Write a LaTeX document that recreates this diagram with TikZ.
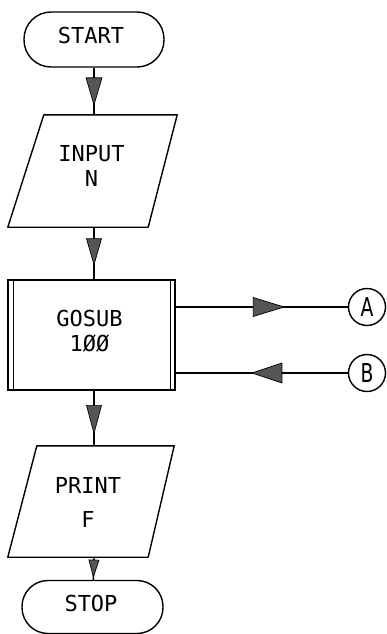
\documentclass[tikz,border=0pt]{standalone}
\usepackage{fontspec}
\usepackage{graphicx}
\usetikzlibrary{decorations.markings}
\newfontfamily\flowfont{DejaVu Sans Mono}
\newfontfamily\circfont{DejaVu Sans}
\definecolor{headfill}{HTML}{555555}
\tikzset{
  conn/.style={draw=black, line width=1.4pt},
  shapebox/.style={draw=black, line width=1.4pt, inner sep=0pt},
  lbl/.style={font=\flowfont\fontsize{22}{25}\selectfont, align=center, inner sep=0pt},
  ghost/.style={draw=none, inner sep=0pt},
  connector/.style={circle, draw=black, line width=1.4pt, minimum size=37pt, inner sep=0pt,
    font=\circfont\fontsize{26}{28}\selectfont},
  midhead/.style n args={3}{postaction={decorate}, decoration={markings,
    mark=at position #1 with {\filldraw[fill=headfill, draw=black, line width=0.7pt]
      (#2/2,0) -- (-#2/2,#3/2) -- (-#2/2,-#3/2) -- cycle;}}}
}
\begin{document}
\begin{tikzpicture}[x=1pt, y=-1pt]
\useasboundingbox (0,0) rectangle (387,634);
% terminals
\node[shapebox, rounded corners=27pt, minimum width=140pt, minimum height=55pt] (start) at (94,39.5) {};
\node[lbl] (starttxt) at (91,35) {START};
\node[shapebox, rounded corners=26pt, minimum width=141pt, minimum height=53pt] (stop) at (92.5,607) {};
\node[lbl] (stoptxt) at (91,603.5) {STOP};
% input parallelogram
\node[ghost, minimum width=169pt, minimum height=112pt] (input) at (92.5,171) {};
\draw[conn, line join=round] ([xshift=36pt]input.north west) -- (input.north east)
  -- ([xshift=-29pt]input.south east) -- (input.south west) -- cycle;
\node[lbl] (inputtxt) at (91.5,166) {INPUT\\N};
% gosub
\node[shapebox, minimum width=167pt, minimum height=110pt] (gosub) at (91.5,335) {};
\draw[conn] ([xshift=6pt]gosub.north west) -- ([xshift=6pt]gosub.south west);
\draw[conn] ([xshift=-5pt]gosub.north east) -- ([xshift=-5pt]gosub.south east);
\node[lbl] (gosubtxt) at (89.5,331.5) {GOSUB\\1ØØ};
% print parallelogram
\node[ghost, minimum width=166pt, minimum height=111pt] (print) at (91,501.5) {};
\draw[conn, line join=round] ([xshift=29pt]print.north west) -- (print.north east)
  -- ([xshift=-26pt]print.south east) -- (print.south west) -- cycle;
\node[lbl] (printtxt) at (88,502) {PRINT\\[9pt]F};
% connectors A, B
\node[connector] (a) at (367,307) {\scalebox{0.72}[1]{A}};
\node[connector] (b) at (367,373) {\scalebox{0.72}[1]{B}};
% flow lines
\draw[conn, midhead={0.5}{27}{16}] (start) -- (start |- input.north);
\draw[conn, midhead={0.47}{26}{15}] (start |- input.south) -- (start |- gosub.north);
\draw[conn, midhead={0.52}{28}{15}] (start |- gosub.south) -- (start |- print.north);
\draw[conn, midhead={0.5}{17}{10}] (start |- print.south) -- (stop);
\draw[conn, midhead={0.54}{31}{19}] (gosub.east |- a) -- (a);
\draw[conn, midhead={0.47}{30}{20}] (b) -- (gosub.east |- b);
\end{tikzpicture}
\end{document}
